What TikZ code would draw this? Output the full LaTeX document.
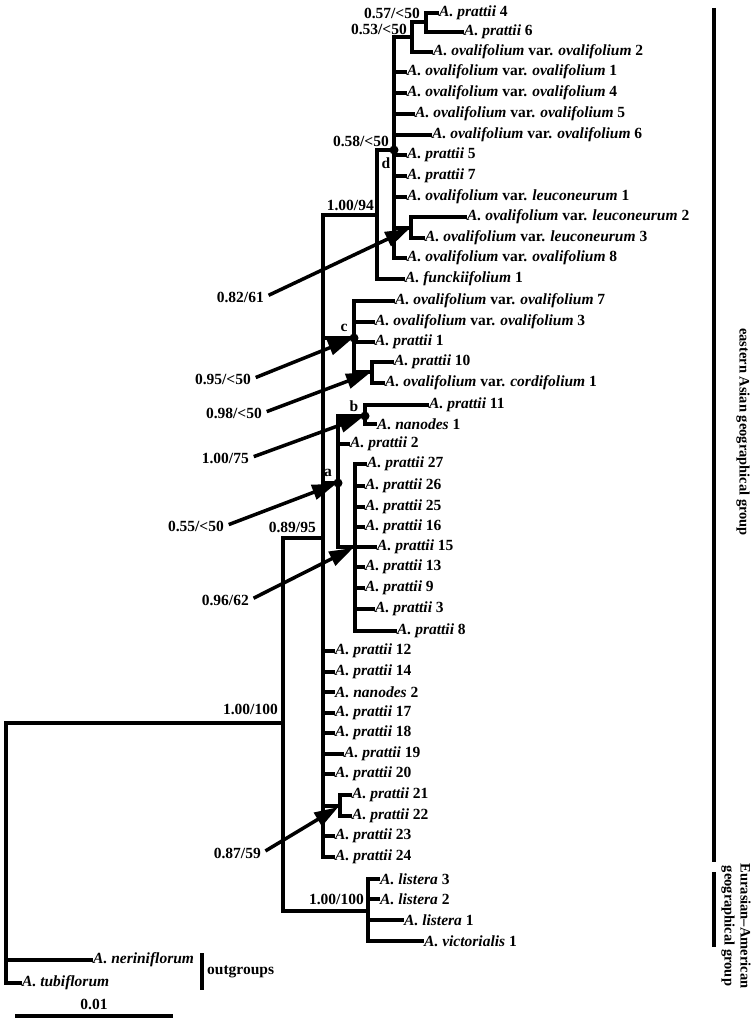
\documentclass[tikz,border=0pt]{standalone}
\usepackage{fontspec}
\setmainfont{Liberation Serif}
\usetikzlibrary{arrows.meta}

\tikzset{
  branch/.style={line width=3.5pt, line cap=rect, line join=miter},
  leaf/.style={anchor=west, inner sep=2pt, font=\fontsize{15.5}{18}\selectfont\bfseries},
  supp/.style={anchor=east, inner sep=1pt, font=\fontsize{15.5}{18}\selectfont\bfseries},
  cladelbl/.style={inner sep=0pt, font=\fontsize{15.5}{18}\selectfont\bfseries},
  sarrow/.style={line width=3.5pt, -{Triangle[length=24pt,width=15pt]}, shorten <=4pt, shorten >=2pt},
  grp/.style={rotate=-90, align=center, inner sep=0pt, font=\fontsize{14.5}{16}\selectfont\bfseries}
}

\begin{document}
\begin{tikzpicture}[x=1pt,y=-1pt]
  \useasboundingbox (0,0) rectangle (755,1022);

  % internal nodes of the tree
  \coordinate (root) at (6,723);
  \coordinate (ing) at (283,723);
  \coordinate (n089) at (323,538);
  \coordinate (n100) at (377,215);
  \coordinate (d) at (394,150);
  \coordinate (n053) at (412,37);
  \coordinate (n057) at (426,22);
  \coordinate (nleu) at (411,228);
  \coordinate (c) at (354,338);
  \coordinate (n098) at (372,372);
  \coordinate (a) at (338,483);
  \coordinate (b) at (365,416);
  \coordinate (n096) at (355,547);
  \coordinate (n087) at (340,806);
  \coordinate (lis) at (368,911);

  % leaves
  \node [leaf] (p4) at (437,13) {\textit{A. prattii} 4};
  \node [leaf] (p6) at (462,32) {\textit{A. prattii} 6};
  \node [leaf] (ov2) at (431,52) {\textit{A. ovalifolium} var. \textit{ovalifolium} 2};
  \node [leaf] (ov1) at (405,72) {\textit{A. ovalifolium} var. \textit{ovalifolium} 1};
  \node [leaf] (ov4) at (405,93) {\textit{A. ovalifolium} var. \textit{ovalifolium} 4};
  \node [leaf] (ov5) at (413,114) {\textit{A. ovalifolium} var. \textit{ovalifolium} 5};
  \node [leaf] (ov6) at (430,135) {\textit{A. ovalifolium} var. \textit{ovalifolium} 6};
  \node [leaf] (p5) at (405,155) {\textit{A. prattii} 5};
  \node [leaf] (p7) at (405,176) {\textit{A. prattii} 7};
  \node [leaf] (le1) at (405,197) {\textit{A. ovalifolium} var. \textit{leuconeurum} 1};
  \node [leaf] (le2) at (465,217) {\textit{A. ovalifolium} var. \textit{leuconeurum} 2};
  \node [leaf] (le3) at (423,238) {\textit{A. ovalifolium} var. \textit{leuconeurum} 3};
  \node [leaf] (ov8) at (405,258) {\textit{A. ovalifolium} var. \textit{ovalifolium} 8};
  \node [leaf] (fu1) at (403,279) {\textit{A. funckiifolium} 1};
  \node [leaf] (ov7) at (393,301) {\textit{A. ovalifolium} var. \textit{ovalifolium} 7};
  \node [leaf] (ov3) at (373,322) {\textit{A. ovalifolium} var. \textit{ovalifolium} 3};
  \node [leaf] (p1) at (373,342) {\textit{A. prattii} 1};
  \node [leaf] (p10) at (392,362) {\textit{A. prattii} 10};
  \node [leaf] (co1) at (383,383) {\textit{A. ovalifolium} var. \textit{cordifolium} 1};
  \node [leaf] (p11) at (427,405) {\textit{A. prattii} 11};
  \node [leaf] (na1) at (375,424) {\textit{A. nanodes} 1};
  \node [leaf] (p2) at (348,444) {\textit{A. prattii} 2};
  \node [leaf] (p27) at (365,464) {\textit{A. prattii} 27};
  \node [leaf] (p26) at (363,486) {\textit{A. prattii} 26};
  \node [leaf] (p25) at (363,507) {\textit{A. prattii} 25};
  \node [leaf] (p16) at (363,527) {\textit{A. prattii} 16};
  \node [leaf] (p15) at (375,547) {\textit{A. prattii} 15};
  \node [leaf] (p13) at (363,567) {\textit{A. prattii} 13};
  \node [leaf] (p9) at (363,588) {\textit{A. prattii} 9};
  \node [leaf] (p3) at (373,609) {\textit{A. prattii} 3};
  \node [leaf] (p8) at (395,631) {\textit{A. prattii} 8};
  \node [leaf] (p12) at (333,651) {\textit{A. prattii} 12};
  \node [leaf] (p14) at (333,672) {\textit{A. prattii} 14};
  \node [leaf] (na2) at (333,692) {\textit{A. nanodes} 2};
  \node [leaf] (p17) at (333,713) {\textit{A. prattii} 17};
  \node [leaf] (p18) at (333,733) {\textit{A. prattii} 18};
  \node [leaf] (p19) at (342,754) {\textit{A. prattii} 19};
  \node [leaf] (p20) at (333,774) {\textit{A. prattii} 20};
  \node [leaf] (p21) at (350,795) {\textit{A. prattii} 21};
  \node [leaf] (p22) at (350,816) {\textit{A. prattii} 22};
  \node [leaf] (p23) at (333,836) {\textit{A. prattii} 23};
  \node [leaf] (p24) at (333,857) {\textit{A. prattii} 24};
  \node [leaf] (li3) at (378,879) {\textit{A. listera} 3};
  \node [leaf] (li2) at (378,899) {\textit{A. listera} 2};
  \node [leaf] (li1) at (402,920) {\textit{A. listera} 1};
  \node [leaf] (vi1) at (422,941) {\textit{A. victorialis} 1};
  \node [leaf] (ner) at (91,960) {\textit{A. neriniflorum}};
  \node [leaf] (tub) at (20,983) {\textit{A. tubiflorum}};

  % branches
  \draw [branch] (root) -- (ing) (root) |- (ner.west) (root) |- (tub.west);
  \draw [branch] (ing) |- (n089) (ing) |- (lis);
  \draw [branch] (lis) |- (li3.west) (lis) |- (li2.west) (lis) |- (li1.west) (lis) |- (vi1.west);
  \draw [branch] (n089) |- (n100) (n089) |- (c) (n089) |- (a) (n089) |- (n087)
    (n089) |- (p12.west) (n089) |- (p14.west) (n089) |- (na2.west) (n089) |- (p17.west)
    (n089) |- (p18.west) (n089) |- (p19.west) (n089) |- (p20.west) (n089) |- (p23.west)
    (n089) |- (p24.west);
  \draw [branch] (n087) |- (p21.west) (n087) |- (p22.west);
  \draw [branch] (n100) |- (d) (n100) |- (fu1.west);
  \draw [branch] (d) |- (n053) (d) |- (nleu) (d) |- (ov1.west) (d) |- (ov4.west)
    (d) |- (ov5.west) (d) |- (ov6.west) (d) |- (p5.west) (d) |- (p7.west)
    (d) |- (le1.west) (d) |- (ov8.west);
  \draw [branch] (n053) |- (n057) (n053) |- (ov2.west);
  \draw [branch] (n057) |- (p4.west) (n057) |- (p6.west);
  \draw [branch] (nleu) |- (le2.west) (nleu) |- (le3.west);
  \draw [branch] (c) |- (n098) (c) |- (ov7.west) (c) |- (ov3.west) (c) |- (p1.west);
  \draw [branch] (n098) |- (p10.west) (n098) |- (co1.west);
  \draw [branch] (a) |- (b) (a) |- (n096) (a) |- (p2.west);
  \draw [branch] (b) |- (p11.west) (b) |- (na1.west);
  \draw [branch] (n096) |- (p27.west) (n096) |- (p26.west) (n096) |- (p25.west)
    (n096) |- (p16.west) (n096) |- (p15.west) (n096) |- (p13.west) (n096) |- (p9.west)
    (n096) |- (p3.west) (n096) |- (p8.west);

  % marked clades
  \fill (a) circle [radius=4.5pt];
  \fill (b) circle [radius=4.5pt];
  \fill (c) circle [radius=4.5pt];
  \fill (d) circle [radius=4.5pt];
  \node [cladelbl] (la) at (328,473) {a};
  \node [cladelbl] (lb) at (354,406) {b};
  \node [cladelbl] (lc) at (344,328) {c};
  \node [cladelbl] (ld) at (386,163) {d};

  % support values
  \node [supp] (s057) at (421,13) {0.57/<50};
  \node [supp] (s053) at (408,29) {0.53/<50};
  \node [supp] (s058) at (390,141) {0.58/<50};
  \node [supp] (s094) at (375,205) {1.00/94};
  \node [supp] (s089) at (317,527) {0.89/95};
  \node [supp] (s100) at (279,709) {1.00/100};
  \node [supp] (s100b) at (365,899) {1.00/100};
  \node [supp] (s082) at (265,297) {0.82/61};
  \node [supp] (s095) at (252,379) {0.95/<50};
  \node [supp] (s098) at (263,413) {0.98/<50};
  \node [supp] (s075) at (250,458) {1.00/75};
  \node [supp] (s055) at (225,526) {0.55/<50};
  \node [supp] (s062) at (250,600) {0.96/62};
  \node [supp] (s059) at (262,853) {0.87/59};
  \draw [sarrow] (s082.east) -- (nleu);
  \draw [sarrow] (s095.east) -- (c);
  \draw [sarrow] (s098.east) -- (n098);
  \draw [sarrow] (s075.east) -- (b);
  \draw [sarrow] (s055.east) -- (a);
  \draw [sarrow] (s062.east) -- (n096);
  \draw [sarrow] (s059.east) -- (n087);

  % groups
  \coordinate (eaT) at (714,8);
  \coordinate (eaB) at (714,862);
  \coordinate (euT) at (714,872);
  \coordinate (euB) at (714,947);
  \coordinate (ogT) at (202,953);
  \coordinate (ogB) at (202,990);
  \draw [line width=3.5pt] (eaT) -- (eaB);
  \draw [line width=3.5pt] (euT) -- (euB);
  \draw [line width=3.5pt] (ogT) -- (ogB);
  \node [grp] (eas) at (743,432) {eastern Asian geographical group};
  \node [grp] (eur) at (736,926) {Eurasian--American\\geographical group};
  \node [leaf] (og) at (205,972) {outgroups};

  % scale bar
  \coordinate (sbL) at (15,1016);
  \coordinate (sbR) at (173,1016);
  \draw [line width=3.5pt] (sbL) -- (sbR);
  \node [cladelbl] (sb) at (94,1004) {0.01};
\end{tikzpicture}
\end{document}
